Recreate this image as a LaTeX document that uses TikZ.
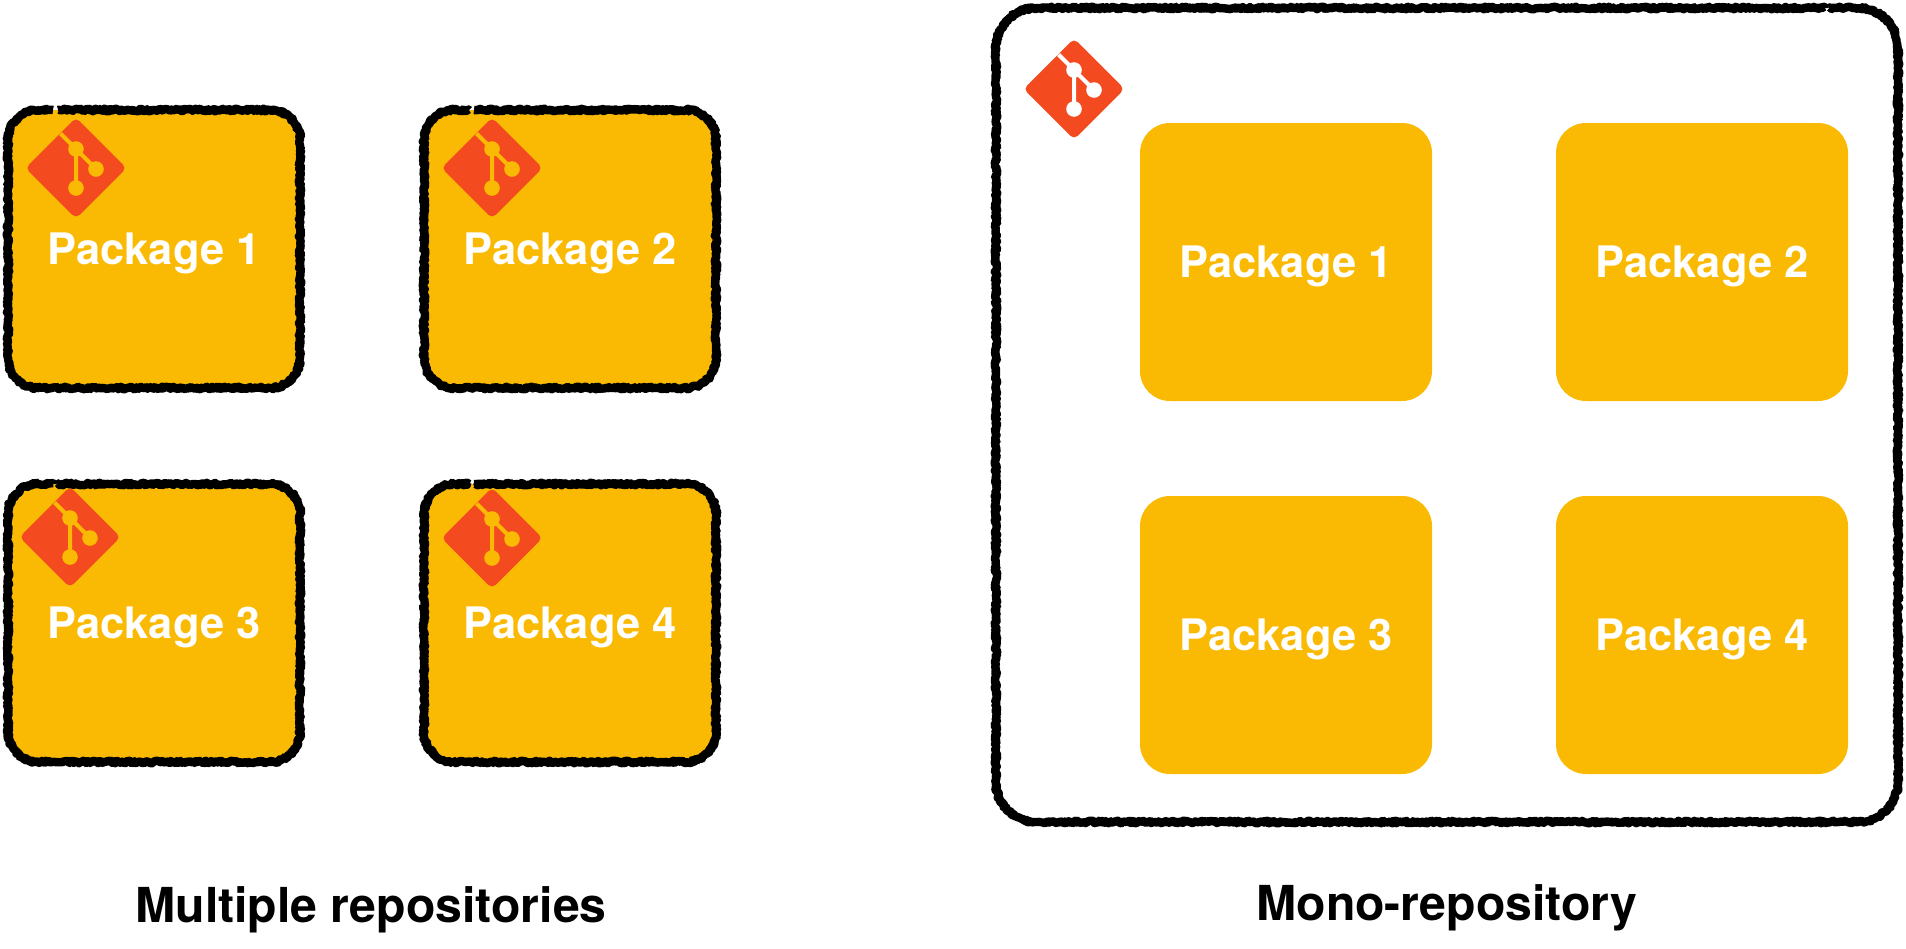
\documentclass[tikz,border=0pt]{standalone}
\usepackage{fontspec}
\setmainfont{TeX Gyre Heros}
\usepackage{xcolor}
\usetikzlibrary{positioning, calc, decorations.pathmorphing}

\definecolor{pkgyellow}{HTML}{FABA03}
\definecolor{gitred}{HTML}{F44A20}

\tikzset{
  gitlogo/.pic={
    \fill[gitred,rounded corners=2.5pt] (0,-50.5) -- (50.5,0) -- (0,50.5) -- (-50.5,0) -- cycle;
    \draw[#1,line width=2pt] (-15.5,-34.5) -- (20,1) (0,-19) -- (0,20);
    \fill[#1] (0,-19) circle (7.8) (20,1) circle (7.8) (0,20) circle (7.8);
  }
}

\begin{document}
\begin{tikzpicture}[x=.5pt,y=-.5pt,node distance=20mm,
    pkg/.style={fill=pkgyellow,text=white,font=\fontsize{21.7}{25}\selectfont\bfseries,text depth=-1.5pt,outer sep=0pt,
      rounded corners=15pt,minimum width=146pt,minimum height=139pt},
    sketchy/.style={draw=black,line width=4.2pt,line join=round,decoration={random steps,segment length=.7pt,amplitude=.65pt}},
    title/.style={font=\fontsize{24.1}{28}\selectfont\bfseries}]
  \useasboundingbox (0,0) rectangle (1906,948);
  \pgfmathsetseed{7}

  % multiple repositories
  \node[pkg] (r1) at (154,249) {Package 1};
  \node[pkg, right=62pt of r1] (r2) {Package 2};
  \node[pkg, below=48pt of r1] (r3) {Package 3};
  \node[pkg, right=62pt of r3] (r4) {Package 4};
  \foreach \n in {r1,r2,r3,r4}
    \draw[sketchy] decorate {[rounded corners=15pt]
      ($(\n.north west)+(50,0)$) -- (\n.north east) -- (\n.south east) -- (\n.south west)
      -- (\n.north west) -- ($(\n.north west)+(45,0)$)};
  \pic at (76,168) {gitlogo=pkgyellow};
  \pic at (492,168) {gitlogo=pkgyellow};
  \pic at (70,537) {gitlogo=pkgyellow};
  \pic at (492,538) {gitlogo=pkgyellow};

  % mono repository
  \node[minimum width=451pt,minimum height=407pt,outer sep=0pt] (mono) at (1447,415) {};
  \draw[sketchy] decorate {[rounded corners=20pt]
    ($(mono.north east)+(-69,0)$) -- (mono.north east) -- (mono.south east) -- (mono.south west)
    -- (mono.north west) -- ($(mono.north east)+(-74,0)$)};
  \node[pkg] (m1) at (1286,262) {Package 1};
  \node[pkg, right=62pt of m1] (m2) {Package 2};
  \node[pkg, below=47.5pt of m1] (m3) {Package 3};
  \node[pkg, right=62pt of m3] (m4) {Package 4};
  \pic at (1074,89) {gitlogo=white};

  \node[title] (tmulti) at (371,910) {Multiple repositories};
  \node[title] (tmono) at (1447,908) {Mono-repository};
\end{tikzpicture}
\end{document}
